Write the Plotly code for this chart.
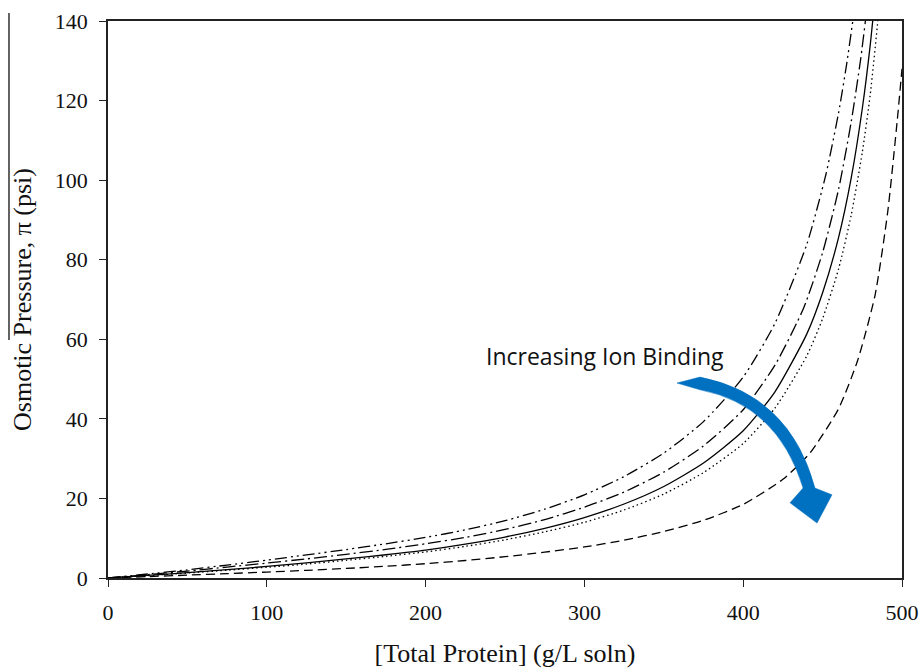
import plotly.graph_objects as go

# ---- data ----
x_dashdotdot = [0, 25, 50, 75, 100, 125, 150, 175, 200, 225, 250, 275, 300, 325, 350, 375,
                400, 420, 440, 452, 460, 465, 469, 472]
y_dashdotdot = [0, 1.0, 2.05, 3.25, 4.5, 5.8, 7.15, 8.6, 10.2, 12.1, 14.4, 17.3, 20.9, 25.5, 31.4, 39.3,
                50.5, 64, 83.8, 101.3, 116.8, 128.8, 140, 149.8]

x_dashdot = [0, 25, 50, 75, 100, 125, 150, 175, 200, 225, 250, 275, 300, 325, 350, 375,
             400, 420, 438, 450, 460, 468, 474, 478]
y_dashdot = [0, 0.85, 1.75, 2.75, 3.75, 4.8, 5.95, 7.2, 8.6, 10.2, 12.2, 14.7, 17.8, 21.6, 26.6, 33.2,
             42.3, 53.5, 67.8, 81.8, 97.6, 114.6, 130.5, 143.5]

x_solid = [0, 25, 50, 75, 100, 125, 150, 175, 200, 225, 250, 275, 300, 325, 350, 375,
           400, 420, 440, 450, 460, 468, 475, 480, 484]
y_solid = [0, 0.65, 1.35, 2.1, 2.9, 3.8, 4.8, 5.85, 7.0, 8.5, 10.3, 12.5, 15.2, 18.6, 23.0, 28.9,
           37.0, 46.8, 61.3, 71.7, 85.5, 100.5, 118, 134, 150]

x_dotted = [0, 25, 50, 75, 100, 125, 150, 175, 200, 225, 250, 275, 300, 325, 350, 375,
            400, 420, 440, 450, 460, 468, 475, 480, 485, 487]
y_dotted = [0, 0.6, 1.25, 1.95, 2.7, 3.5, 4.45, 5.45, 6.55, 7.95, 9.6, 11.6, 14.0, 17.1, 21.1, 26.5,
            33.8, 42.7, 55.8, 65.2, 77.6, 91.2, 107, 121.5, 141, 151]

x_dashed = [0, 25, 50, 75, 100, 125, 150, 175, 200, 225, 250, 275, 300, 325, 350, 375,
            400, 425, 442, 460, 472, 483, 491, 497, 500]
y_dashed = [0, 0.35, 0.72, 1.1, 1.5, 1.92, 2.4, 2.95, 3.6, 4.4, 5.35, 6.5, 7.8, 9.5, 11.7, 14.5,
            18.5, 24.8, 31.4, 42.5, 54.6, 71, 92, 115, 128]

x_ticks = [0, 100, 200, 300, 400, 500]
y_ticks = [0, 20, 40, 60, 80, 100, 120, 140]

serif = "Liberation Serif, Times New Roman, serif"

series = [
    (x_dashdotdot, y_dashdotdot, "12px,4px,2px,4px,2px,4px"),
    (x_dashdot, y_dashdot, "13px,4px,2px,4px"),
    (x_solid, y_solid, "solid"),
    (x_dotted, y_dotted, "1.5px,3px"),
    (x_dashed, y_dashed, "9px,5px"),
]

fig = go.Figure()
for xs, ys, dash in series:
    fig.add_trace(go.Scatter(
        x=xs, y=ys, mode="lines",
        line=dict(color="black", width=1.3, dash=dash, shape="spline", smoothing=0.6),
        showlegend=False, hoverinfo="skip",
    ))

axis_common = dict(
    showline=True, linecolor="#222", linewidth=1.5, mirror=True,
    ticks="outside", ticklen=7, tickwidth=1.3, tickcolor="#222",
    showgrid=False, zeroline=False,
    tickfont=dict(family=serif, size=22, color="#111"),
    ticklabelstandoff=7,
)

fig.update_xaxes(
    range=[0, 500], tickvals=x_ticks,
    title=dict(text="[Total Protein] (g/L soln)", font=dict(family=serif, size=26, color="#111"), standoff=20),
    **axis_common,
)
fig.update_yaxes(
    range=[0, 140], tickvals=y_ticks,
    title=dict(text="Osmotic Pressure, \u03c0 (psi)", font=dict(family=serif, size=26, color="#111"), standoff=16),
    **axis_common,
)

# curved blue arrow "Increasing Ion Binding"
arrow_path = (
    "M 358.3,49.0 L 372.8,50.5 Q 429.5,46.0 445.2,22.6 "
    "L 455.9,20.9 L 446.5,13.8 L 429.5,18.9 L 437.7,22.6 "
    "Q 421.9,43.5 372.8,47.3 Z"
)
fig.add_shape(type="path", path=arrow_path, xref="x", yref="y",
              fillcolor="#0070C0", line=dict(color="#0070C0", width=0.5), layer="above")

fig.add_annotation(
    x=0.626, y=0.3986, xref="paper", yref="paper", xanchor="center", yanchor="middle",
    text="Increasing Ion Binding", showarrow=False,
    font=dict(family="Open Sans, sans-serif", size=23, color="#111"),
)

# stray vertical line at the far left of the reference image
fig.add_shape(type="line", xref="paper", yref="paper",
              x0=-0.1247, x1=-0.1247, y0=0.4273, y1=1.0144,
              line=dict(color="#111", width=1.3))

fig.update_layout(
    width=921, height=672, autosize=False,
    margin=dict(l=108, r=19, t=21, b=94, autoexpand=False),
    paper_bgcolor="white", plot_bgcolor="white",
)

fig.write_html(
    "out.html",
    config={"displayModeBar": False},
    post_script=(
        "document.body.style.margin='0';"
        "document.body.style.overflow='hidden';"
        "document.documentElement.style.overflow='hidden';"
    ),
)
